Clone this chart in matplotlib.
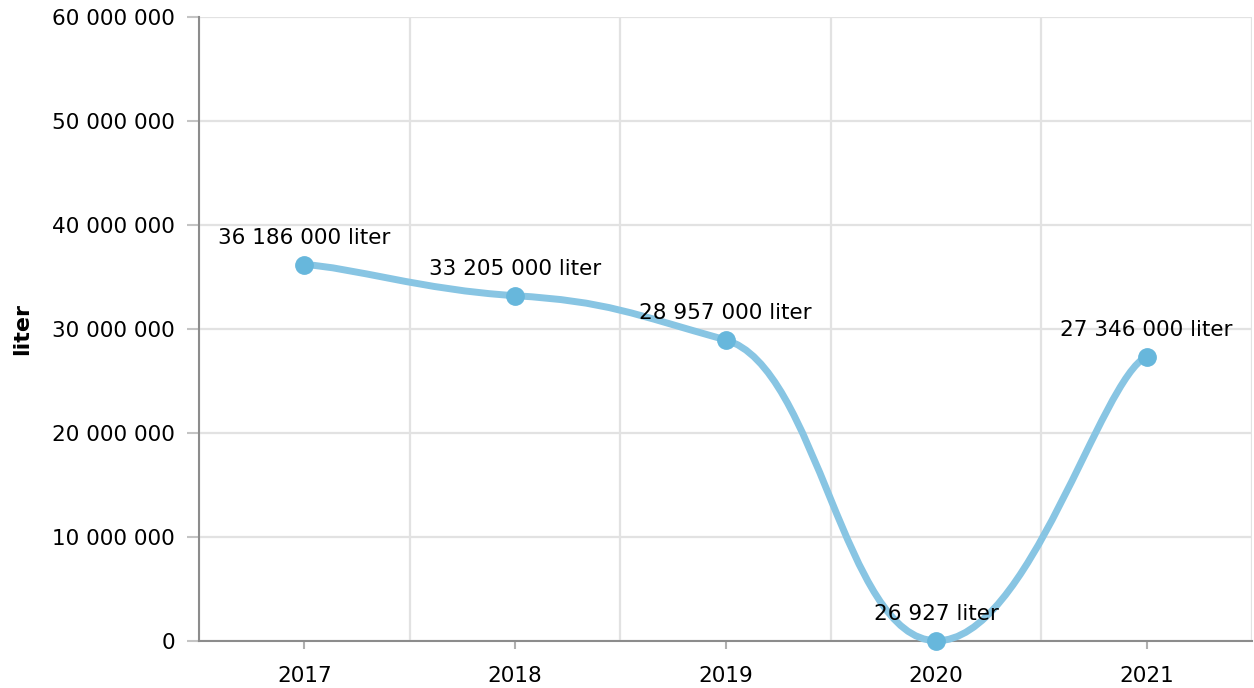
import numpy as np
import matplotlib
matplotlib.use("Agg")
import matplotlib.pyplot as plt
from matplotlib.path import Path
from matplotlib.patches import PathPatch

# ---- data ----
years = ["2017", "2018", "2019", "2020", "2021"]
values = [36186000, 33205000, 28957000, 26927, 27346000]
unit = "liter"
y_ticks = [0, 10000000, 20000000, 30000000, 40000000, 50000000, 60000000]

def fmt(v):
    return "{:,}".format(int(v)).replace(",", " ")

plt.rcParams['font.family'] = ['DejaVu Sans']

W, H = 1254, 688
fig = plt.figure(figsize=(W / 100, H / 100), dpi=100)
ax = fig.add_axes([199 / W, 1 - 641 / H, (1252 - 199) / W, (641 - 17) / H])

n = len(years)
xs = np.arange(n)
ax.set_xlim(-0.5, n - 0.5)
ax.set_ylim(0, 60000000)

# grid
grid_col = '#e2e2e2'
ax.set_xticks(np.arange(-0.5, n, 1.0), minor=True)
ax.set_xticks(xs)
ax.set_xticklabels(years)
ax.grid(which='minor', axis='x', color=grid_col, linewidth=1.6)
ax.grid(which='major', axis='x', visible=False)
ax.set_yticks(y_ticks)
ax.set_yticklabels([fmt(v) for v in y_ticks])
ax.grid(which='major', axis='y', color=grid_col, linewidth=1.6)
ax.set_axisbelow(True)

for s in ['top', 'right']:
    ax.spines[s].set_visible(False)
for s in ['left', 'bottom']:
    ax.spines[s].set_color('#8c8c8c')
    ax.spines[s].set_linewidth(1.5)

ax.tick_params(axis='y', which='major', length=8.6, width=1.5, color='#c4c4c4',
               pad=8.5, labelsize=15.5, labelcolor='#000000')
ax.tick_params(axis='x', which='major', length=6, width=1.5, color='#b0b0b0',
               pad=12, labelsize=15.5, labelcolor='#000000')
ax.tick_params(axis='x', which='minor', length=0)

# smoothed line (tension-based cubic Bezier through the data points)
pts = np.column_stack([xs.astype(float), np.array(values, dtype=float)])
tx, ty = 0.22, 0.075
verts = [tuple(pts[0])]
codes = [Path.MOVETO]
for i in range(n - 1):
    p0 = pts[max(i - 1, 0)]
    p1 = pts[i]
    p2 = pts[i + 1]
    p3 = pts[min(i + 2, n - 1)]
    c1 = (p1[0] + tx * (p2[0] - p0[0]), p1[1] + ty * (p2[1] - p0[1]))
    c2 = (p2[0] - tx * (p3[0] - p1[0]), p2[1] - ty * (p3[1] - p1[1]))
    verts += [c1, c2, tuple(p2)]
    codes += [Path.CURVE4, Path.CURVE4, Path.CURVE4]
patch = PathPatch(Path(verts, codes), facecolor='none', edgecolor='#88c5e3',
                  linewidth=5, capstyle='round', joinstyle='round', zorder=3,
                  clip_on=False)
ax.add_patch(patch)

ax.plot(xs, values, linestyle='none', marker='o', markersize=12.5,
        markerfacecolor='#67b7dc', markeredgecolor='#67b7dc', zorder=4, clip_on=False)

for x, v in zip(xs, values):
    ax.annotate(f"{fmt(v)} {unit}", (x, v), xytext=(0, 19.5), textcoords='offset points',
                ha='center', va='center', fontsize=15.5, color='#000000', zorder=5)

fig.text(22 / W, 1 - 329 / H, unit, rotation=90, ha='center', va='center',
         fontsize=16, fontweight='bold', color='#000000')

fig.savefig('out.png', dpi=100)
